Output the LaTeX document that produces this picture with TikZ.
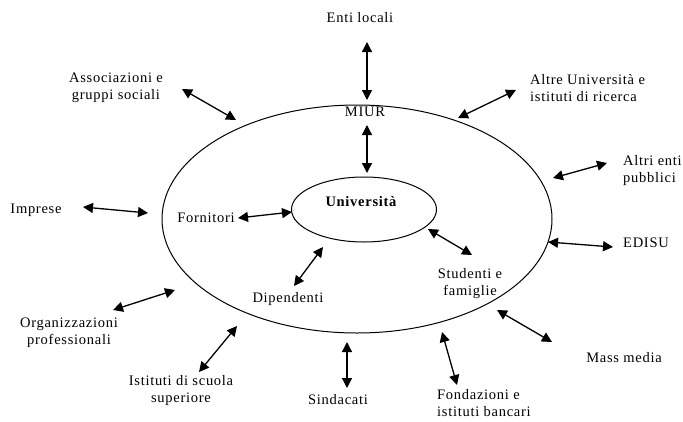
\documentclass[tikz,border=0pt]{standalone}
\usepackage{fontspec}
\setmainfont{Liberation Serif}[LetterSpace=5]
\usetikzlibrary{arrows.meta,shapes.geometric}
\begin{document}
\begin{tikzpicture}[x=1pt,y=-1pt,
  lbl/.style={inner sep=0pt,font=\fontsize{14.5}{17}\selectfont,align=center},
  lbll/.style={lbl,anchor=west,align=left},
  link/.style={line width=1.3pt,{Triangle[length=10pt,width=10pt]}-{Triangle[length=10pt,width=10pt]}},
  ring/.style={draw,ellipse,line width=1pt,inner sep=0pt}]
\useasboundingbox (0,0) rectangle (683,421);
\fill[white] (0,0) rectangle (683,421);
% ellipses
\node[ring,minimum width=390pt,minimum height=228pt] (outer) at (357,219) {};
\node[ring,minimum width=145pt,minimum height=65pt] (inner) at (364,209.5) {};
% labels
\node[lbl] (enti) at (360,18) {Enti locali};
\node[lbl] (assoc) at (116,88) {Associazioni e\\gruppi sociali};
\node[lbll] (altre) at (530,88) {Altre Università e\\istituti di ricerca};
\node[lbll] (altri) at (623,171) {Altri enti\\pubblici};
\node[lbl] (imprese) at (36,210) {Imprese};
\node[lbl] (fornitori) at (206,218) {Fornitori};
\node[lbll] (edisu) at (623,243) {EDISU};
\node[lbl] (miur) at (365,112) {MIUR};
\node[lbl,font=\fontsize{14.5}{17}\selectfont\bfseries] (univ) at (361,202) {Università};
\node[lbl] (studenti) at (470,284) {Studenti e\\famiglie};
\node[lbl] (dipendenti) at (288,299) {Dipendenti};
\node[lbl] (organ) at (69,333) {Organizzazioni\\professionali};
\node[lbl] (mass) at (624,358) {Mass media};
\node[lbl] (istituti) at (181,391) {Istituti di scuola\\superiore};
\node[lbl] (sindacati) at (338,400) {Sindacati};
\node[lbll] (fondazioni) at (437,403) {Fondazioni e\\istituti bancari};
% arrow ends
\coordinate (e1) at (367,42);  \coordinate (e2) at (367,100);
\coordinate (a1) at (182,89);  \coordinate (a2) at (236,120);
\coordinate (r1) at (458,118); \coordinate (r2) at (516,90);
\coordinate (p1) at (553,178); \coordinate (p2) at (607,163);
\coordinate (i1) at (83,207);  \coordinate (i2) at (148,213);
\coordinate (m1) at (367,125); \coordinate (m2) at (367,173);
\coordinate (f1) at (238,218); \coordinate (f2) at (292,212);
\coordinate (d1) at (548,242); \coordinate (d2) at (613,247);
\coordinate (s1) at (428,229); \coordinate (s2) at (472,255);
\coordinate (dp1) at (294,286); \coordinate (dp2) at (323,247);
\coordinate (o1) at (113,310); \coordinate (o2) at (175,290);
\coordinate (mm1) at (497,310); \coordinate (mm2) at (552,342);
\coordinate (is1) at (199,372); \coordinate (is2) at (237,326);
\coordinate (sd1) at (347,342); \coordinate (sd2) at (347,388);
\coordinate (fd1) at (442,332); \coordinate (fd2) at (457,385);
% arrows
\draw[link] (e1) -- (e2);
\draw[link] (a1) -- (a2);
\draw[link] (r1) -- (r2);
\draw[link] (p1) -- (p2);
\draw[link] (i1) -- (i2);
\draw[link] (m1) -- (m2);
\draw[link] (f1) -- (f2);
\draw[link] (d1) -- (d2);
\draw[link] (s1) -- (s2);
\draw[link] (dp1) -- (dp2);
\draw[link] (o1) -- (o2);
\draw[link] (mm1) -- (mm2);
\draw[link] (is1) -- (is2);
\draw[link] (sd1) -- (sd2);
\draw[link] (fd1) -- (fd2);
\end{tikzpicture}
\end{document}
